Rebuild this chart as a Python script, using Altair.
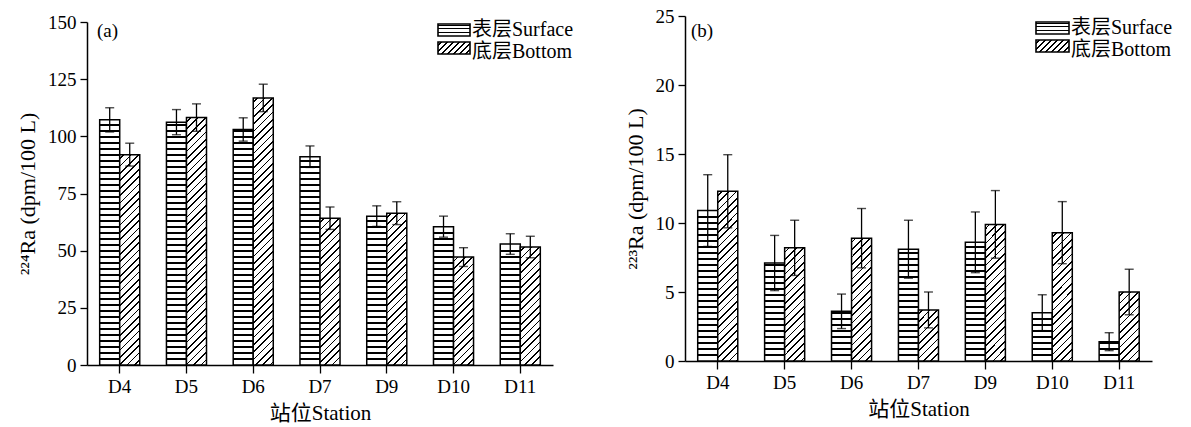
import math
import altair as alt
import pandas as pd

# ---------------- data ----------------
stations = ["D4", "D5", "D6", "D7", "D9", "D10", "D11"]
layers = ["表层Surface", "底层Bottom"]
panel_labels = ["(a)", "(b)"]

ra224_surface = [107.2, 106.2, 103.0, 91.1, 65.1, 60.5, 52.9]
ra224_surface_err = [5.3, 5.5, 5.1, 4.7, 4.5, 4.6, 4.5]
ra224_bottom = [92.0, 108.2, 116.8, 64.2, 66.4, 47.2, 51.6]
ra224_bottom_err = [5.0, 6.0, 6.0, 4.9, 5.0, 4.1, 4.7]

ra223_surface = [10.9, 7.1, 3.6, 8.1, 8.6, 3.5, 1.4]
ra223_surface_err = [2.6, 2.0, 1.25, 2.1, 2.2, 1.3, 0.65]
ra223_bottom = [12.3, 8.2, 8.9, 3.7, 9.9, 9.3, 5.0]
ra223_bottom_err = [2.65, 2.0, 2.15, 1.3, 2.45, 2.25, 1.65]

FONT = "Liberation Serif, Noto Sans CJK SC"
P_IN, P_OUT = 0.4, 0.19


# ---------------- pattern fills (gradients) ----------------
def _stop(o, c):
    return {"offset": round(min(max(o, 0.0), 1.0), 6), "color": c}


def h_gradient(h, period=6.0, lw=1.2):
    centers = []
    c = h - period
    while c - lw / 2 > 0.5:
        centers.append(c)
        c -= period
    centers.sort()
    stops = [_stop(0, "white")]
    for c in centers:
        a, b = (c - lw / 2) / h, (c + lw / 2) / h
        stops += [_stop(a, "white"), _stop(a, "black"), _stop(b, "black"), _stop(b, "white")]
    stops.append(_stop(1, "white"))
    return {"gradient": "linear", "x1": 0, "y1": 0, "x2": 0, "y2": 1, "stops": stops}


def d_gradient(w, h, spacing=5.2, lw=1.2):
    r = h / w
    k = (w + h) / (w * (1 + r * r))
    per = spacing * math.sqrt(2)
    th = lw * math.sqrt(2)
    tot = w + h
    stops = [_stop(0, "white")]
    s = per * 0.6
    while s + th / 2 < tot:
        a, b = (s - th / 2) / tot, (s + th / 2) / tot
        stops += [_stop(a, "white"), _stop(a, "black"), _stop(b, "black"), _stop(b, "white")]
        s += per
    stops.append(_stop(1, "white"))
    return {"gradient": "linear", "x1": 0, "y1": 0, "x2": round(k, 6), "y2": round(k * r, 6), "stops": stops}


def panel(sv, se, bv, be, ymax, ystep, width, height, rng, label, ytitle, leg):
    df = pd.DataFrame({
        "station": stations * 2,
        "layer": [layers[0]] * len(stations) + [layers[1]] * len(stations),
        "value": sv + bv,
        "err": se + be,
    })
    step = width / (len(stations) - P_IN + 2 * P_OUT)
    w = step * (1 - P_IN) / 2
    span = rng[0] - rng[1]
    conds = []
    for st, ly, v in zip(df["station"], df["layer"], df["value"]):
        h = v / ymax * span
        g = h_gradient(h) if ly == layers[0] else d_gradient(w, h)
        conds.append({"test": f"datum['station'] === '{st}' && datum['layer'] === '{ly}'", "value": g})

    x = alt.X("station:N", sort=stations,
              scale=alt.Scale(paddingInner=P_IN, paddingOuter=P_OUT),
              axis=alt.Axis(title="站位Station", labelAngle=0, tickSize=8, labelPadding=4,
                            titlePadding=6, labelFontSize=19, titleFontSize=21))
    xo = alt.XOffset("layer:N", sort=layers, scale=alt.Scale(paddingInner=0, paddingOuter=0))
    y = alt.Y("value:Q",
              scale=alt.Scale(domain=[0, ymax], range=list(rng), nice=False, zero=True),
              axis=alt.Axis(title=ytitle, values=list(range(0, ymax + 1, ystep)), tickSize=7,
                            labelPadding=4, titlePadding=8, labelFontSize=19, titleFontSize=22))

    base = alt.Chart(df)
    bars = base.mark_bar(stroke="black", strokeWidth=1.5).encode(
        x=x, xOffset=xo, y=y, fill={"condition": conds, "value": "white"})
    eb = base.transform_calculate(lo="datum.value - datum.err", hi="datum.value + datum.err")
    rules = eb.mark_rule(color="black", strokeWidth=1.3).encode(
        x=x, xOffset=xo, y="lo:Q", y2="hi:Q")
    caps_hi = eb.mark_tick(color="black", orient="horizontal", size=9, thickness=1.4).encode(
        x=x, xOffset=xo, y="hi:Q")
    caps_lo = eb.mark_tick(color="black", orient="horizontal", size=9, thickness=1.4).encode(
        x=x, xOffset=xo, y="lo:Q")

    ldf = pd.DataFrame({"layer": layers})
    sw1 = alt.Chart(ldf).transform_filter(f"datum.layer === '{layers[0]}'").mark_rect(
        fill=h_gradient(leg["sw1"][1] - leg["sw1"][0], period=3.6, lw=1.2),
        stroke="black", strokeWidth=1.6).encode(
        x=alt.value(leg["x0"]), x2=alt.value(leg["x1"]),
        y=alt.value(leg["sw1"][0]), y2=alt.value(leg["sw1"][1]))
    sw2 = alt.Chart(ldf).transform_filter(f"datum.layer === '{layers[1]}'").mark_rect(
        fill=d_gradient(leg["x1"] - leg["x0"], leg["sw2"][1] - leg["sw2"][0], spacing=4.2, lw=1.2),
        stroke="black", strokeWidth=1.6).encode(
        x=alt.value(leg["x0"]), x2=alt.value(leg["x1"]),
        y=alt.value(leg["sw2"][0]), y2=alt.value(leg["sw2"][1]))
    t1 = alt.Chart(ldf).transform_filter(f"datum.layer === '{layers[0]}'").mark_text(
        align="left", baseline="middle", fontSize=20, font=FONT, color="black").encode(
        text="layer:N", x=alt.value(leg["tx"]), y=alt.value(leg["t1"]))
    t2 = alt.Chart(ldf).transform_filter(f"datum.layer === '{layers[1]}'").mark_text(
        align="left", baseline="middle", fontSize=20, font=FONT, color="black").encode(
        text="layer:N", x=alt.value(leg["tx"]), y=alt.value(leg["t2"]))
    lab = alt.Chart(pd.DataFrame({"label": [label]})).mark_text(
        align="left", baseline="middle", fontSize=19, font=FONT, color="black").encode(
        text="label:N", x=alt.value(leg["lx"]), y=alt.value(15))

    return alt.layer(bars, rules, caps_hi, caps_lo, sw1, sw2, t1, t2, lab).properties(
        width=width, height=height)


pa = panel(ra224_surface, ra224_surface_err, ra224_bottom, ra224_bottom_err,
           150, 25, 466, 349, (349, 6), panel_labels[0], "²²⁴Ra (dpm/100 L)",
           {"x0": 351, "x1": 383, "sw1": (8, 20), "sw2": (26, 38), "tx": 385,
            "t1": 14, "t2": 36, "lx": 10})
pb = panel(ra223_surface, ra223_surface_err, ra223_bottom, ra223_bottom_err,
           25, 5, 467, 345, (345, 0), panel_labels[1], "²²³Ra (dpm/100 L)",
           {"x0": 351, "x1": 384, "sw1": (6, 18), "sw2": (24, 36), "tx": 386,
            "t1": 12, "t2": 34, "lx": 6})

chart = alt.hconcat(pa, pb, spacing=50).properties(
    padding={"left": 16, "top": 7, "right": 0, "bottom": 0},
    background="white",
).configure_view(stroke=None).configure_axis(
    grid=False, domainColor="black", domainWidth=1.5, tickColor="black", tickWidth=1.3,
    labelColor="black", titleColor="black", labelFont=FONT, titleFont=FONT,
    titleFontWeight="normal"
)

chart.save("out.html", embed_options={"renderer": "svg", "actions": False})
